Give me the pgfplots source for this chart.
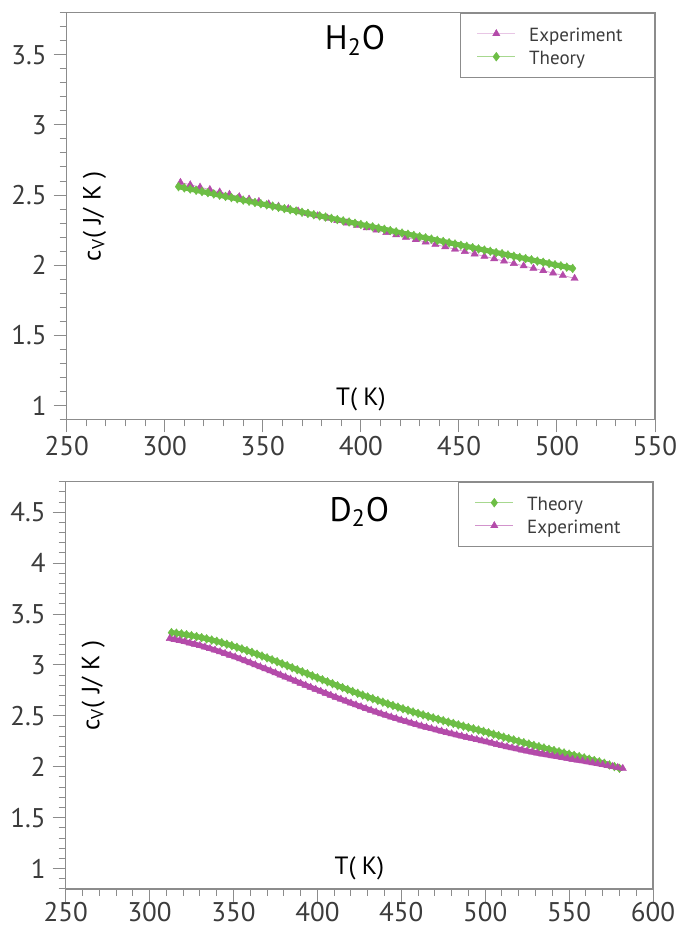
\documentclass[border=0pt]{standalone}
\usepackage{fontspec}
\setmainfont{PT Sans}
\setsansfont{PT Sans}
\usepackage{pgfplots}
\pgfplotsset{compat=1.18}
\definecolor{expc}{HTML}{B44BAA}
\definecolor{expl}{HTML}{D9A0D4}
\definecolor{thc}{HTML}{6DBE45}
\definecolor{thl}{HTML}{9AD27E}
\definecolor{axg}{HTML}{8C8C8C}
\definecolor{tlc}{HTML}{3C3C3C}
\pgfplotsset{
  mystyle/.style={
    scale only axis,
    anchor=south west,
    axis line style={draw=axg, line width=0.6pt},
    tick style={draw=axg, line width=0.5pt},
    tick align=outside,
    tick pos=left,
    major tick length=6.5pt,
    minor tick length=3.5pt,
    ticklabel style={font=\fontsize{13.5}{14}\selectfont, text=tlc},
    xticklabel style={inner ysep=0.5pt, yshift=-1pt},
    /pgf/number format/assume math mode=true,
    minor x tick num=4,
    minor y tick num=4,
    xlabel style={at={(axis description cs:0.5,0.05)}, anchor=center, font=\fontsize{12.5}{14}\selectfont},
    ylabel style={at={(axis description cs:0.047,0.5)}, anchor=center, font=\fontsize{12.5}{14}\selectfont},
    xlabel={T(\hspace{0.25em}K)},
    ylabel={c\textsubscript{V}(\hspace{0.3em}J/\hspace{0.3em}K\hspace{0.3em})},
    legend style={at={(1,1)}, anchor=north east, draw=axg, line width=0.5pt, fill=white,
      font=\fontsize{9.5}{11}\selectfont, text=tlc, inner xsep=8pt, inner ysep=4.5pt,
      row sep=0pt, column sep=0pt,
      nodes={inner xsep=6.7pt, inner ysep=0pt, text height=9.5pt, text depth=2pt, text width=48pt}},
    legend cell align=left,
    legend image code/.code={\draw[##1, line width=0.4pt, draw opacity=0.6, mark repeat=2, mark phase=2] plot coordinates {(0pt,0pt) (9.5pt,0pt) (19pt,0pt)};},
  },
  expstyle/.style={color=expl, line width=0.4pt, mark=triangle*, mark size=2.1pt, mark options={fill=expc, draw=expc, line width=0.2pt, draw opacity=1}},
  thstyle/.style={color=thl, line width=0.4pt, mark=diamond*, mark size=2.2pt, mark options={fill=thc, draw=thc, line width=0.2pt, draw opacity=1}},
  expband/.style={expstyle, draw=expc, line width=2.6pt},
  thband/.style={thstyle, draw=thc, line width=2.6pt},
}
\begin{document}
\begin{tikzpicture}
\useasboundingbox (0,0) rectangle (339pt,464.5pt);
% ---------------- H2O ----------------
\begin{axis}[mystyle,
  at={(33.35pt,254.75pt)}, width=294.15pt, height=203.4pt,
  xmin=250, xmax=550, ymin=0.9, ymax=3.8,
  xtick={250,300,...,550}, ytick={0.5,1,...,4}]
\addplot[expstyle] coordinates {
(308,2.590) (313,2.573) (318,2.556) (323,2.539) (328,2.522) (333,2.505) (338,2.488) (343,2.471)
(348,2.454) (353,2.437) (358,2.420) (363,2.403) (368,2.386) (373,2.369) (378,2.352) (383,2.335)
(388,2.318) (393,2.301) (398,2.284) (403,2.267) (408,2.250) (413,2.233) (418,2.216) (423,2.199)
(428,2.182) (433,2.165) (438,2.148) (443,2.131) (448,2.114) (453,2.097) (458,2.080) (463,2.063)
(468,2.046) (473,2.029) (478,2.012) (483,1.995) (488,1.978) (493,1.961) (498,1.944) (503,1.927)
(509,1.906)};
\addlegendentry{Experiment}
\addplot[thband] coordinates {
(307,2.560) (310,2.551) (313,2.543) (316,2.534) (319,2.525) (322,2.517) (325,2.508) (328,2.499)
(331,2.490) (334,2.482) (337,2.473) (340,2.464) (343,2.456) (346,2.447) (349,2.438) (352,2.430)
(355,2.421) (358,2.412) (361,2.403) (364,2.395) (367,2.386) (370,2.377) (373,2.369) (376,2.360)
(379,2.351) (382,2.343) (385,2.334) (388,2.325) (391,2.316) (394,2.308) (397,2.299) (400,2.290)
(403,2.282) (406,2.273) (409,2.264) (412,2.256) (415,2.247) (418,2.238) (421,2.229) (424,2.221)
(427,2.212) (430,2.203) (433,2.195) (436,2.186) (439,2.177) (442,2.169) (445,2.160) (448,2.151)
(451,2.142) (454,2.134) (457,2.125) (460,2.116) (463,2.108) (466,2.099) (469,2.090) (472,2.082)
(475,2.073) (478,2.064) (481,2.055) (484,2.047) (487,2.038) (490,2.029) (493,2.021) (496,2.012)
(499,2.003) (502,1.995) (505,1.986) (508,1.977)};
\addlegendentry{Theory}
\node[font=\fontsize{17}{20}\selectfont] at (axis description cs:0.49,0.932) {H\textsubscript{2}O};
\end{axis}
% ---------------- D2O ----------------
\begin{axis}[mystyle,
  at={(32.85pt,20pt)}, width=293.65pt, height=203.65pt,
  xmin=250, xmax=600, ymin=0.8, ymax=4.8,
  xticklabel style={yshift=1.8pt},
  xtick={250,300,...,600}, ytick={0.5,1,...,5}]
\addplot[thband] coordinates {
(313,3.318) (316,3.312) (319,3.305) (322,3.297) (325,3.288) (328,3.279) (331,3.269) (334,3.257)
(337,3.245) (340,3.233) (343,3.219) (346,3.204) (349,3.190) (352,3.174) (355,3.158) (358,3.141)
(361,3.124) (364,3.106) (367,3.088) (370,3.070) (373,3.051) (376,3.032) (379,3.012) (382,2.993)
(385,2.973) (388,2.953) (391,2.933) (394,2.914) (397,2.894) (400,2.874) (403,2.855) (406,2.835)
(409,2.816) (412,2.796) (415,2.778) (418,2.759) (421,2.740) (424,2.722) (427,2.704) (430,2.686)
(433,2.669) (436,2.652) (439,2.635) (442,2.618) (445,2.602) (448,2.586) (451,2.570) (454,2.555)
(457,2.539) (460,2.524) (463,2.510) (466,2.495) (469,2.481) (472,2.467) (475,2.453) (478,2.439)
(481,2.426) (484,2.412) (487,2.399) (490,2.386) (493,2.373) (496,2.361) (499,2.348) (502,2.334)
(505,2.320) (508,2.306) (511,2.291) (514,2.278) (517,2.264) (520,2.250) (523,2.237) (526,2.224)
(529,2.210) (532,2.198) (535,2.185) (538,2.172) (541,2.160) (544,2.148) (547,2.136) (550,2.124)
(553,2.112) (556,2.100) (559,2.088) (562,2.075) (565,2.062) (568,2.049) (571,2.035) (574,2.018)
(577,2.002) (580,1.985)};
\addlegendentry{Theory}
\addplot[expband] coordinates {
(312,3.260) (315,3.250) (318,3.240) (321,3.229) (324,3.216) (327,3.204) (330,3.191) (333,3.176)
(336,3.161) (339,3.146) (342,3.130) (345,3.113) (348,3.096) (351,3.079) (354,3.060) (357,3.041)
(360,3.022) (363,3.002) (366,2.982) (369,2.963) (372,2.943) (375,2.923) (378,2.902) (381,2.882)
(384,2.862) (387,2.841) (390,2.821) (393,2.801) (396,2.781) (399,2.761) (402,2.741) (405,2.722)
(408,2.702) (411,2.683) (414,2.664) (417,2.645) (420,2.626) (423,2.608) (426,2.590) (429,2.572)
(432,2.555) (435,2.538) (438,2.521) (441,2.505) (444,2.489) (447,2.474) (450,2.458) (453,2.444)
(456,2.429) (459,2.415) (462,2.401) (465,2.388) (468,2.375) (471,2.362) (474,2.350) (477,2.337)
(480,2.325) (483,2.313) (486,2.302) (489,2.290) (492,2.279) (495,2.268) (498,2.256) (501,2.245)
(504,2.233) (507,2.220) (510,2.208) (513,2.197) (516,2.186) (519,2.176) (522,2.165) (525,2.155)
(528,2.145) (531,2.135) (534,2.126) (537,2.117) (540,2.108) (543,2.100) (546,2.091) (549,2.083)
(552,2.074) (555,2.066) (558,2.058) (561,2.049) (564,2.040) (567,2.031) (570,2.022) (573,2.012)
(576,2.003) (579,1.993) (582,1.984)};
\addlegendentry{Experiment}
\node[font=\fontsize{17}{20}\selectfont] at (axis description cs:0.5,0.926) {D\textsubscript{2}O};
\end{axis}
\end{tikzpicture}
\end{document}
